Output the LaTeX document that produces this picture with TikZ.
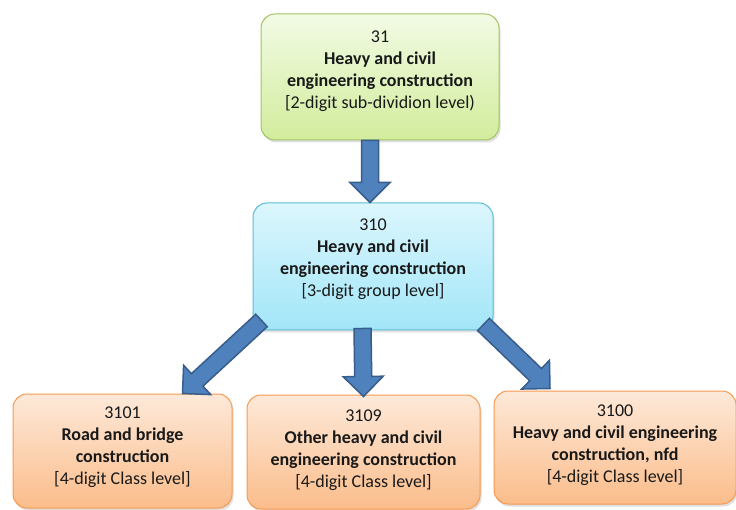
\documentclass[tikz,border=0pt]{standalone}
\usepackage{fontspec}
\setmainfont{Carlito}
\usetikzlibrary{calc,shadows}

\definecolor{subtop}{HTML}{F2FBE5}
\definecolor{subbot}{HTML}{D2EC9C}
\definecolor{subline}{HTML}{A2C362}
\definecolor{grptop}{HTML}{DCF6FD}
\definecolor{grpbot}{HTML}{A2E6F8}
\definecolor{grpline}{HTML}{5CBCD6}
\definecolor{clstop}{HTML}{FDE9D9}
\definecolor{clsbot}{HTML}{FBBD8B}
\definecolor{clsline}{HTML}{F79A4F}
\definecolor{arrowfill}{HTML}{4F81BD}
\definecolor{arrowline}{HTML}{385D8A}

\tikzset{
  box/.style={rounded corners=14pt, line width=1pt,
    drop shadow={shadow xshift=1.5pt, shadow yshift=-2.5pt, opacity=0.25}},
  subbox/.style={box, draw=subline, top color=subtop, bottom color=subbot},
  grpbox/.style={box, draw=grpline, top color=grptop, bottom color=grpbot},
  clsbox/.style={box, draw=clsline, top color=clstop, bottom color=clsbot},
  txt/.style={align=center, inner sep=0pt, text=black!90,
    font=\fontsize{18}{22}\selectfont},
  arrowbody/.style={fill=arrowfill, draw=arrowline, line width=1.5pt}
}

% block arrow from #1 to the tip #2
\newcommand{\blockarrow}[2]{%
  \coordinate (hb) at ($(#2)!20pt!(#1)$);
  \draw[arrowbody] ($(#1)!8.5pt!90:(#2)$) -- ($(hb)!8.5pt!90:(#2)$)
    -- ($(hb)!20pt!90:(#2)$) -- (#2) -- ($(hb)!20pt!-90:(#2)$)
    -- ($(hb)!8.5pt!-90:(#2)$) -- ($(#1)!8.5pt!-90:(#2)$) -- cycle;}

\begin{document}
\begin{tikzpicture}
\useasboundingbox (0,0) rectangle (736pt,509pt);

% sub-division level
\node[subbox, minimum width=238pt, minimum height=126pt] (sub) at (380pt,432pt) {};
\node[txt] (subtxt) at ([yshift=6pt]sub.center)
  {31\\\textbf{Heavy and civil}\\\textbf{engineering construction}\\{}[2-digit sub-dividion level)};

% group level
\node[grpbox, minimum width=240pt, minimum height=127pt] (grp) at (373pt,242.5pt) {};
\node[txt] (grptxt) at ([yshift=7pt]grp.center)
  {310\\\textbf{Heavy and civil}\\\textbf{engineering construction}\\{}[3-digit group level]};

% class level
\node[clsbox, minimum width=219pt, minimum height=114pt] (road) at (122.5pt,58pt) {};
\node[txt] (roadtxt) at ([yshift=3.5pt]road.center)
  {3101\\\textbf{Road and bridge}\\\textbf{construction}\\{}[4-digit Class level]};

\node[clsbox, minimum width=233pt, minimum height=114pt] (other) at (363.5pt,57pt) {};
\node[txt] (othertxt) at ([yshift=2pt]other.center)
  {3109\\\textbf{Other heavy and civil}\\\textbf{engineering construction}\\{}[4-digit Class level]};

\node[clsbox, minimum width=242pt, minimum height=113pt] (nfd) at (615pt,61.5pt) {};
\node[txt] (nfdtxt) at ([yshift=2.5pt]nfd.center)
  {3100\\\textbf{Heavy and civil engineering}\\\textbf{construction, nfd}\\{}[4-digit Class level]};

% arrows
\coordinate (subout) at ([xshift=-10pt]sub.south);
\coordinate (grpin) at ([xshift=-3pt]grp.north);
\blockarrow{subout}{grpin}

\coordinate (grpleft) at ([shift={(9pt,10pt)}]grp.south west);
\coordinate (roadin) at ([xshift=60pt]road.north);
\blockarrow{grpleft}{roadin}

\coordinate (grpmid) at ([shift={(-10.5pt,2pt)}]grp.south);
\coordinate (otherin) at ([yshift=-2pt]other.north);
\blockarrow{grpmid}{otherin}

\coordinate (grpright) at ([shift={(-10pt,6pt)}]grp.south east);
\coordinate (nfdin) at ([shift={(-65pt,2pt)}]nfd.north);
\blockarrow{grpright}{nfdin}
\end{tikzpicture}
\end{document}
